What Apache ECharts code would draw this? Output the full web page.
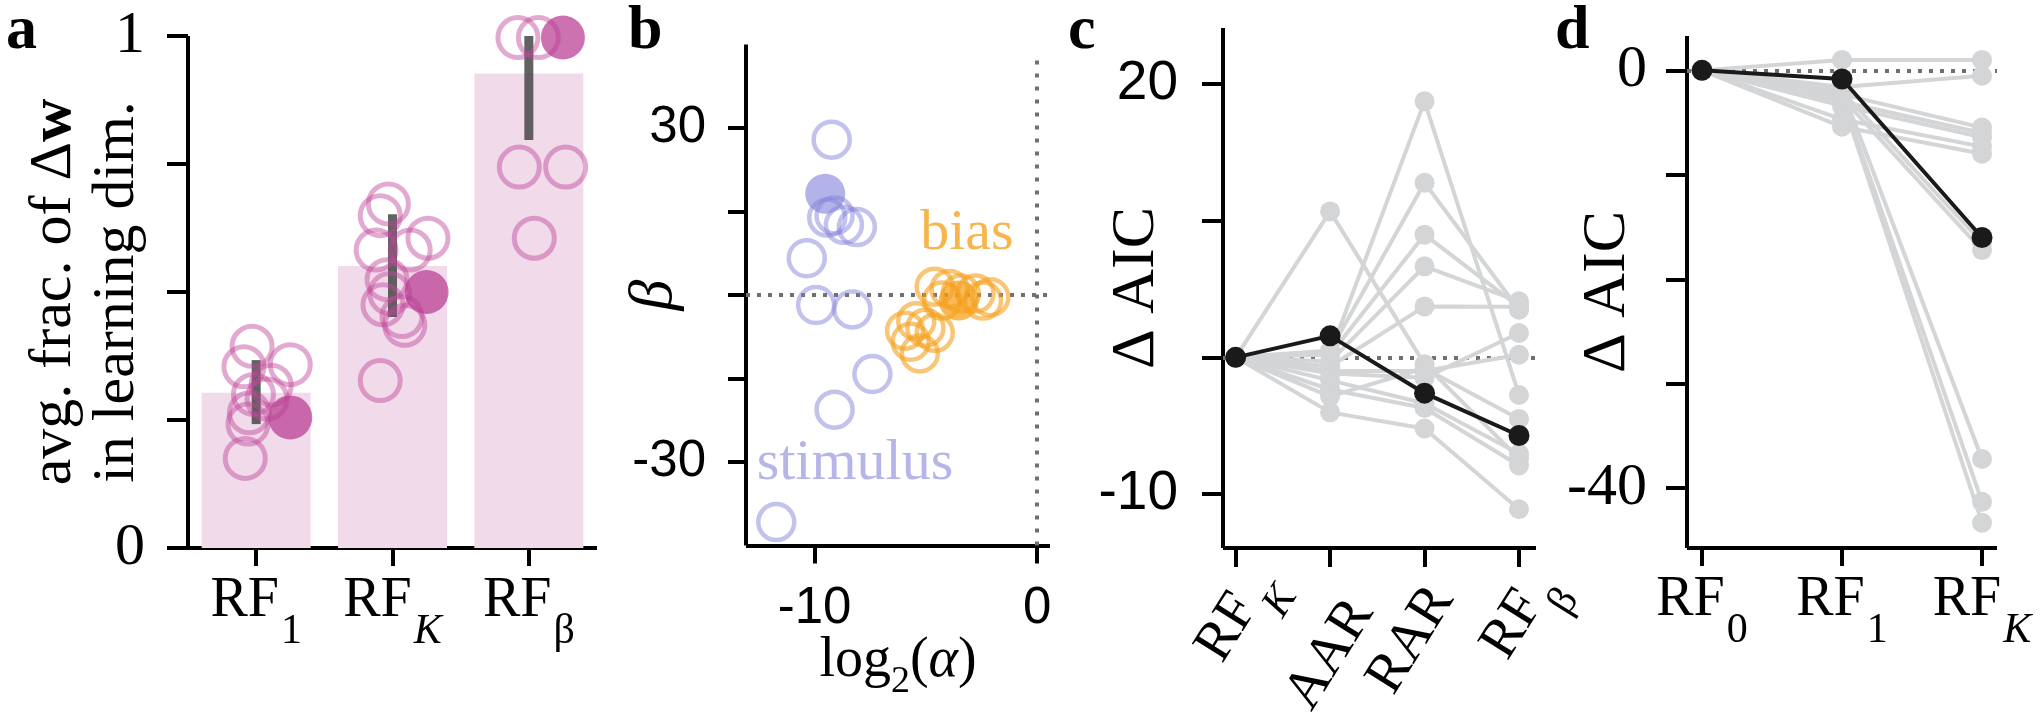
<!DOCTYPE html>
<html><head><meta charset="utf-8"><title>RF model comparison</title>
<script src="https://cdn.jsdelivr.net/npm/echarts@6/dist/echarts.min.js"></script>
<style>html,body{margin:0;padding:0;background:#fff;overflow:hidden}#chart{width:2040px;height:719px}</style>
</head><body><div id="chart"></div>
<script>
// ---------------- data ----------------
// panel a
const aTickLabels = ['{rf|RF}{s|1}', '{rf|RF}{si|K}', '{rf|RF}{s|β}'];
const aYTicks = [0, 0.25, 0.5, 0.75, 1];
const aYLabels = [0, 1];
const aBarValues = [0.303, 0.551, 0.927];
const aErrLow = [0.242, 0.451, 0.797];
const aErrHigh = [0.367, 0.652, 1.0];
const aOpenPoints = [
  [-0.03, 0.394], [-0.09, 0.354], [0.25, 0.358], [0.11, 0.318], [-0.02, 0.300],
  [-0.05, 0.264], [-0.06, 0.242], [-0.08, 0.175], [0.08, 0.291],
  [0.97, 0.672], [0.91, 0.649], [1.26, 0.605], [1.13, 0.582], [0.88, 0.582], [0.96, 0.524],
  [0.98, 0.497], [0.93, 0.475], [1.07, 0.452], [1.09, 0.435], [0.91, 0.327],
  [1.93, 0.744], [2.27, 0.744], [2.04, 0.605], [1.92, 0.997], [2.07, 0.997]
];
const aFilledPoints = [[0.25, 0.255], [1.25, 0.500], [2.25, 0.997]];
// panel b
const bXTicks = [-10, 0];
const bYTicks = [-30, -15, 0, 15, 30];
const bYLabels = [-30, 30];
const bStimOpen = [
  [-9.23, 27.9], [-9.1, 14.3], [-8.68, 12.6], [-8.1, 12.2], [-9.43, 13.9], [-10.35, 6.6],
  [-9.93, -1.8], [-8.3, -2.6], [-7.4, -14.2], [-9.1, -20.6], [-11.72, -40.8]
];
const bStimFilled = [[-9.52, 18.2]];
const bBiasOpen = [
  [-4.6, 1.5], [-3.93, 1.1], [-3.43, 0.25], [-2.77, 0.25], [-2.43, -1.0], [-4.27, -1.0],
  [-2.1, -0.4], [-5.43, -4.7], [-5.93, -6.4], [-5.02, -5.9], [-5.68, -8.4], [-5.27, -10.5], [-4.6, -6.8]
];
const bBiasFilled = [[-3.52, -1.0]];
const bTextLabels = ['bias', 'stimulus'];
const bTextPos = [[-5.25, 11.0], [-12.6, -30.3]];
// panel c
const cTickLabels = ['{rf|RF}{si|K}', '{aar|AAR}', '{rar|RAR}', '{rf|RF}{s|β}'];
const cYTicks = [-10, 0, 10, 20];
const cYLabels = [-10, 20];
const cGray = [
  [0, 10.66, -0.5, -7.4],
  [0, 0.3, 18.7, -2.75],
  [0, 0.5, 12.75, 3.48],
  [0, 0.2, 8.96, 3.7],
  [0, -0.3, 6.65, 4.09],
  [0, -0.67, 3.72, 3.7],
  [0, -1.18, -1.5, 1.78],
  [0, -1.0, -1.0, 0.19],
  [0, -1.68, -3.35, -7.05],
  [0, -2.35, -3.7, -7.9],
  [0, -2.85, -0.8, -4.5],
  [0, -4.02, -5.2, -11.1]
];
const cMean = [0, 1.57, -2.62, -5.71];
// panel d
const dTickLabels = ['{rf|RF}{s|0}', '{rf|RF}{s|1}', '{rf|RF}{si|K}'];
const dYTicks = [-40, -30, -20, -10, 0];
const dYLabels = [-40, 0];
const dGray = [
  [0, 1.0, 1.0],
  [0, -1.6, -0.52],
  [0, -2.3, -5.48],
  [0, -3.4, -6.4],
  [0, -4.7, -7.3],
  [0, -5.4, -7.98],
  [0, -3.0, -6.0],
  [0, -2.0, -16.5],
  [0, -2.6, -17.2],
  [0, -1.8, -37.2],
  [0, -2.5, -41.3],
  [0, -2.8, -43.3]
];
const dMean = [0, -0.83, -16.0];

// ---------------- styling ----------------
const SERIF = 'Liberation Serif', SANS = 'Liberation Sans';
const GRAY = '#d3d5d7', BLACK = '#1a1a1a', DOT = '#707070';

const richRF = {
  rf: {fontFamily: SERIF, fontSize: 56, lineHeight: 56, verticalAlign: 'top', color: '#000'},
  s: {fontFamily: SERIF, fontSize: 42, lineHeight: 42, verticalAlign: 'top', padding: [38, 0, 0, 2], color: '#000'},
  si: {fontFamily: SERIF, fontStyle: 'italic', fontSize: 42, lineHeight: 42, verticalAlign: 'top', padding: [38, 0, 0, 2], color: '#000'},
  aar: {fontFamily: SERIF, fontSize: 56, lineHeight: 56, verticalAlign: 'top', padding: [21, 67, 0, 0], color: '#000'},
  rar: {fontFamily: SERIF, fontSize: 56, lineHeight: 56, verticalAlign: 'top', padding: [2, 56, 0, 0], color: '#000'}
};

function axisLine() { return {show: true, onZero: false, lineStyle: {color: '#000', width: 4, cap: 'butt'}}; }
function axisTick(len, vals) { return {show: true, length: len, customValues: vals, lineStyle: {color: '#000', width: 4}}; }
function nameStyle(size, extra) {
  return Object.assign({fontFamily: SERIF, fontSize: size, color: '#000'}, extra || {});
}

const xAxes = [
  { // a
    gridIndex: 0, type: 'value', min: -0.5, max: 2.5,
    axisLine: axisLine(), axisTick: axisTick(18, [0, 1, 2]), splitLine: {show: false},
    axisLabel: {customValues: [0, 1, 2], margin: 25, formatter: v => aTickLabels[Math.round(v)], rich: richRF}
  },
  { // b
    gridIndex: 1, type: 'value', min: -13.08, max: 0.58,
    axisLine: axisLine(), axisTick: axisTick(18, bXTicks), splitLine: {show: false},
    axisLabel: {customValues: bXTicks, margin: 38, fontFamily: SANS, fontSize: 51, color: '#000', formatter: v => String(v)},
    name: '{n|log}{s|2}{n|(}{i|α}{n|)}', nameLocation: 'middle', nameGap: 88, nameMoveOverlap: false,
    nameTextStyle: nameStyle(56, {rich: {
      n: {fontFamily: SERIF, fontSize: 56, lineHeight: 56, verticalAlign: 'top', color: '#000'},
      s: {fontFamily: SERIF, fontSize: 38, lineHeight: 38, verticalAlign: 'top', padding: [30, 0, 0, 0], color: '#000'},
      i: {fontFamily: SERIF, fontStyle: 'italic', fontSize: 56, lineHeight: 56, verticalAlign: 'top', color: '#000'}
    }})
  },
  { // c
    gridIndex: 2, type: 'value', min: -0.134, max: 3.18,
    axisLine: axisLine(), axisTick: axisTick(19, [0, 1, 2, 3]), splitLine: {show: false},
    axisLabel: {customValues: [0, 1, 2, 3], rotate: 58, align: 'center', verticalAlign: 'middle', margin: 67,
      formatter: v => cTickLabels[Math.round(v)], rich: richRF}
  },
  { // d
    gridIndex: 3, type: 'value', min: -0.107, max: 2.107,
    axisLine: axisLine(), axisTick: axisTick(18, [0, 1, 2]), splitLine: {show: false},
    axisLabel: {customValues: [0, 1, 2], margin: 24, formatter: v => dTickLabels[Math.round(v)], rich: richRF}
  }
];

const yAxes = [
  { // a
    gridIndex: 0, type: 'value', min: 0, max: 1,
    axisLine: axisLine(), axisTick: axisTick(21, aYTicks), splitLine: {show: false},
    axisLabel: {customValues: aYLabels, margin: 43, fontFamily: SERIF, fontSize: 60, color: '#000', formatter: v => String(v)},
    name: '{n|avg. frac. of Δ}{b|w}\n{n|in learning dim.}', nameLocation: 'middle', nameRotate: 90, nameGap: 39,
    nameMoveOverlap: false,
    nameTextStyle: nameStyle(60, {lineHeight: 63, rich: {
      n: {fontFamily: SERIF, fontSize: 60, lineHeight: 63, color: '#000'},
      b: {fontFamily: SERIF, fontWeight: 'bold', fontSize: 60, lineHeight: 63, color: '#000'}
    }})
  },
  { // b
    gridIndex: 1, type: 'value', min: -45, max: 45,
    axisLine: axisLine(), axisTick: axisTick(18, bYTicks), splitLine: {show: false},
    axisLabel: {customValues: bYLabels, margin: 40, fontFamily: SANS, fontSize: 51, color: '#000', formatter: v => String(v)},
    name: 'β', nameLocation: 'middle', nameRotate: 90, nameGap: 60, nameMoveOverlap: false,
    nameTextStyle: nameStyle(62, {fontStyle: 'italic'})
  },
  { // c
    gridIndex: 2, type: 'value', min: -13.93, max: 24.06,
    axisLine: axisLine(), axisTick: axisTick(21, cYTicks), splitLine: {show: false},
    axisLabel: {customValues: cYLabels, margin: 45, fontFamily: SANS, fontSize: 55, color: '#000', formatter: v => String(v)},
    name: 'Δ AIC', nameLocation: 'middle', nameRotate: 90, nameGap: 55, nameMoveOverlap: false,
    nameTextStyle: nameStyle(62)
  },
  { // d
    gridIndex: 3, type: 'value', min: -45.72, max: 3.29,
    axisLine: axisLine(), axisTick: axisTick(21, dYTicks), splitLine: {show: false},
    axisLabel: {customValues: dYLabels, margin: 40, fontFamily: SERIF, fontSize: 60, color: '#000', formatter: v => String(v)},
    name: 'Δ AIC', nameLocation: 'middle', nameRotate: 90, nameGap: 48, nameMoveOverlap: false,
    nameTextStyle: nameStyle(62)
  }
];

const series = [];
// ----- panel a -----
series.push({
  type: 'bar', xAxisIndex: 0, yAxisIndex: 0, barWidth: 109, z: 1, silent: true,
  data: aBarValues.map((v, i) => [i, v]), itemStyle: {color: '#f1dbeb'}
});
series.push({
  type: 'custom', xAxisIndex: 0, yAxisIndex: 0, z: 2, clip: true, silent: true,
  data: aBarValues.map((_, i) => [i, aErrLow[i], aErrHigh[i]]),
  encode: {x: 0, y: [1, 2]},
  renderItem: (params, api) => {
    const p1 = api.coord([api.value(0), api.value(1)]);
    const p2 = api.coord([api.value(0), api.value(2)]);
    return {type: 'line', shape: {x1: p1[0], y1: p1[1], x2: p2[0], y2: p2[1]},
      style: {stroke: 'rgba(70,70,70,0.85)', lineWidth: 9, lineCap: 'butt'}};
  }
});
series.push({
  type: 'scatter', xAxisIndex: 0, yAxisIndex: 0, z: 3, clip: true, silent: true,
  data: aOpenPoints, symbol: 'circle', symbolSize: 40,
  itemStyle: {color: 'rgba(0,0,0,0)', borderColor: 'rgba(192,71,154,0.58)', borderWidth: 5}
});
series.push({
  type: 'scatter', xAxisIndex: 0, yAxisIndex: 0, z: 4, clip: true, silent: true,
  data: aFilledPoints, symbol: 'circle', symbolSize: 44,
  itemStyle: {color: 'rgba(185,60,145,0.9)'}
});
// ----- panel b -----
series.push({
  type: 'scatter', xAxisIndex: 1, yAxisIndex: 1, z: 3, silent: true,
  data: bStimOpen, symbol: 'circle', symbolSize: 36,
  itemStyle: {color: 'rgba(0,0,0,0)', borderColor: 'rgba(128,128,218,0.6)', borderWidth: 4.5},
  markLine: {
    silent: true, symbol: ['none', 'none'], z: 1, label: {show: false}, animation: false,
    lineStyle: {color: DOT, width: 4, type: [4, 7]},
    data: [
      {yAxis: 0},
      [{coord: [0, -45], lineStyle: {color: DOT, width: 4, type: [4, 9]}}, {coord: [0, 43.2]}]
    ]
  }
});
series.push({
  type: 'scatter', xAxisIndex: 1, yAxisIndex: 1, z: 4, silent: true,
  data: bStimFilled, symbol: 'circle', symbolSize: 40, itemStyle: {color: 'rgba(128,128,218,0.75)'}
});
series.push({
  type: 'scatter', xAxisIndex: 1, yAxisIndex: 1, z: 3, silent: true,
  data: bBiasOpen, symbol: 'circle', symbolSize: 36,
  itemStyle: {color: 'rgba(0,0,0,0)', borderColor: 'rgba(245,160,28,0.75)', borderWidth: 4.5}
});
series.push({
  type: 'scatter', xAxisIndex: 1, yAxisIndex: 1, z: 4, silent: true,
  data: bBiasFilled, symbol: 'circle', symbolSize: 40, itemStyle: {color: 'rgba(245,160,28,0.92)'}
});
const bTextColors = ['#f5a41f', '#a3a3e3'];
bTextLabels.forEach((t, i) => {
  series.push({
    type: 'scatter', xAxisIndex: 1, yAxisIndex: 1, z: 5, silent: true,
    data: [{value: bTextPos[i], name: t}], symbolSize: 1, itemStyle: {color: 'rgba(0,0,0,0)'},
    label: {show: true, position: 'inside', align: 'left', verticalAlign: 'middle', formatter: '{b}',
      fontFamily: SERIF, fontSize: 58, color: bTextColors[i]}
  });
});
// ----- panel c & d -----
function addLines(xi, gray, mean) {
  gray.forEach((row, k) => {
    const s = {
      type: 'line', xAxisIndex: xi, yAxisIndex: xi, z: 2, silent: true,
      data: row.map((v, j) => [j, v]), symbol: 'circle', symbolSize: 20, showSymbol: true,
      lineStyle: {color: GRAY, width: 4}, itemStyle: {color: GRAY}
    };
    if (k === 0) {
      s.markLine = {silent: true, symbol: ['none', 'none'], z: 1, label: {show: false}, animation: false,
        lineStyle: {color: DOT, width: 4, type: [4, 7]}, data: [{yAxis: 0}]};
    }
    series.push(s);
  });
  series.push({
    type: 'line', xAxisIndex: xi, yAxisIndex: xi, z: 3, silent: true,
    data: mean.map((v, j) => [j, v]), symbol: 'circle', symbolSize: 21,
    lineStyle: {color: BLACK, width: 4}, itemStyle: {color: BLACK}
  });
}
addLines(2, cGray, cMean);
addLines(3, dGray, dMean);

const gridBase = {outerBoundsMode: 'none', containLabel: false, show: false};
const option = {
  animation: false,
  backgroundColor: '#fff',
  textStyle: {fontFamily: SERIF},
  grid: [
    Object.assign({left: 188, top: 36, width: 409, height: 512}, gridBase),
    Object.assign({left: 746, top: 44.5, width: 304, height: 501}, gridBase),
    Object.assign({left: 1223, top: 28, width: 313, height: 520}, gridBase),
    Object.assign({left: 1687, top: 36, width: 310, height: 512}, gridBase)
  ],
  xAxis: xAxes,
  yAxis: yAxes,
  series: series,
  graphic: ['a', 'b', 'c', 'd'].map((t, i) => ({
    type: 'text', x: [6, 628, 1068, 1555][i], y: 32, silent: true,
    style: {text: t, font: 'bold 62px "Liberation Serif"', fill: '#000', verticalAlign: 'middle', align: 'left'}
  }))
};

const chart = echarts.init(document.getElementById('chart'), null, {renderer: 'canvas', width: 2040, height: 719});
chart.setOption(option);
</script>
</body></html>
